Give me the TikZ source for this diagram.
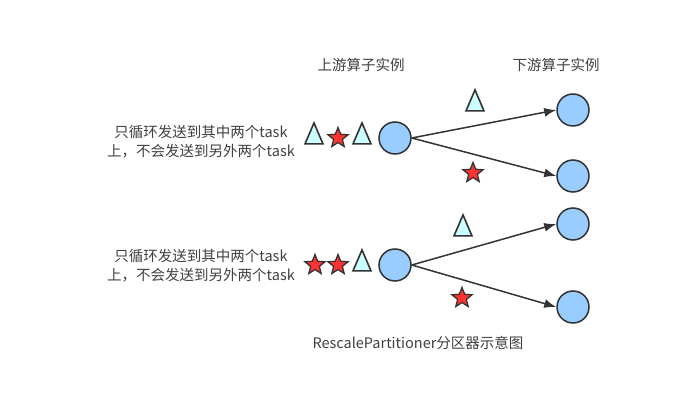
\documentclass[tikz,border=0pt]{standalone}
\usepackage{fontspec}
\setmainfont{Noto Sans CJK SC}
\usepackage{xcolor}
\usetikzlibrary{arrows.meta,shapes.geometric}
\definecolor{edge}{HTML}{333333}
\definecolor{opfill}{HTML}{99CCFF}
\definecolor{trifill}{HTML}{CCFFFF}
\definecolor{starfill}{HTML}{FF3333}
\definecolor{txt}{HTML}{404040}
\tikzset{op/.style={circle,draw=edge,fill=opfill,line width=1.5pt,minimum size=32pt,inner sep=0pt},
 tri/.style={isosceles triangle,isosceles triangle stretches,shape border rotate=90,draw=edge,
 fill=trifill,line width=1.6pt,minimum width=18pt,minimum height=21pt,inner sep=0pt},
 redstar/.style={star,star points=5,star point ratio=2.3,draw=edge,fill=starfill,
 line width=1.3pt,minimum size=21pt,inner sep=0pt},
 arr/.style={-{Latex[length=12pt,width=9pt]},draw=edge,line width=1.5pt}}
\tikzset{note/.style={align=center,text=txt,font=\fontsize{14.5}{19}\selectfont},
 head/.style={text=txt,font=\fontsize{14.5}{17}\selectfont}}

\begin{document}
\begin{tikzpicture}[x=1pt,y=-1pt]
\useasboundingbox (0,0) rectangle (694,403);
\node[head] (uphead) at (361,65) {上游算子实例};
\node[head] (dnhead) at (556,65) {下游算子实例};
% upper group
\node[op] (up1) at (395,138) {};
\node[op] (dn1) at (573,110) {};
\node[op] (dn2) at (573,176) {};
\node[tri] (t1) at (314,138) {};
\node[redstar] (s1) at (338,138) {};
\node[tri] (t2) at (362,138) {};
\node[note] (n1) at (201,142) {只循环发送到其中两个task\\上，不会发送到另外两个task};
\draw[arr] (up1.east)--(dn1.west);
\draw[arr] (up1.east)--(dn2.west);
\node[tri] (t3) at (475,105) {};
\node[redstar] (s2) at (473,173) {};
% lower group
\node[op] (up2) at (395,265) {};
\node[op] (dn3) at (573,224) {};
\node[op] (dn4) at (573,307) {};
\node[redstar] (s3) at (315,265) {};
\node[redstar] (s4) at (338,265) {};
\node[tri] (t4) at (362,265) {};
\node[note] (n2) at (201,266) {只循环发送到其中两个task\\上，不会发送到另外两个task};
\draw[arr] (up2.east)--(dn3.west);
\draw[arr] (up2.east)--(dn4.west);
\node[tri] (t5) at (463,230) {};
\node[redstar] (s5) at (462,298) {};
\node[head] (cap) at (418,343) {RescalePartitioner分区器示意图};
\end{tikzpicture}
\end{document}
